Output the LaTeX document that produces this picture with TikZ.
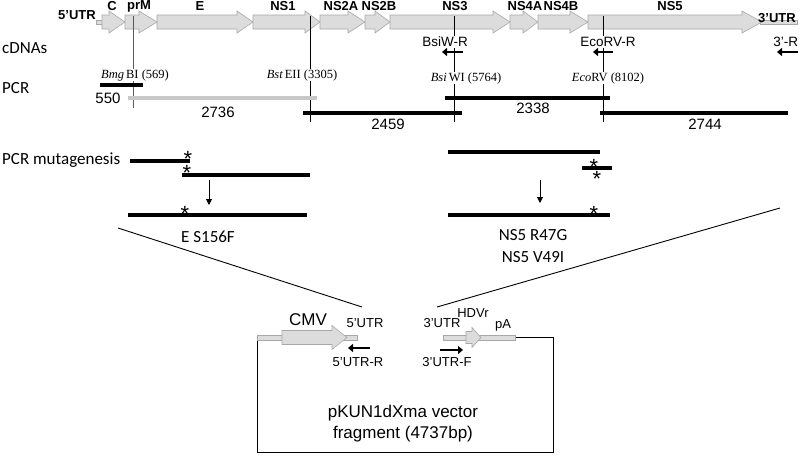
\documentclass[tikz,border=0pt]{standalone}
\usepackage{fontspec}
\setmainfont{Liberation Sans}
\newfontfamily\calfont{Carlito}
\newfontfamily\serfont{Liberation Serif}
\usetikzlibrary{arrows.meta}
\definecolor{genefill}{HTML}{DCDCDC}
\definecolor{geneline}{HTML}{A8A8A8}
\definecolor{graybar}{HTML}{C8C8C8}
\newcommand\garrow[6]{% x0, xhead, xtip, yc, body half, head half
  \draw[gene] (#1,#4-#5) -- (#2,#4-#5) -- (#2,#4-#6) -- (#3,#4) -- (#2,#4+#6) -- (#2,#4+#5) -- (#1,#4+#5) -- cycle;}
\newcommand\mystar{\raisebox{-9pt}[6pt][0pt]{*}}
\begin{document}
\begin{tikzpicture}[x=1pt,y=-1pt,
  gene/.style={fill=genefill, draw=geneline, line width=0.6pt},
  glab/.style={font=\fontsize{13}{15}\selectfont\bfseries, inner sep=0pt},
  numlab/.style={font=\fontsize{15}{17}\selectfont, inner sep=0pt},
  prim/.style={font=\fontsize{13.5}{15}\selectfont, inner sep=0.8pt, fill=white},
  site/.style={font=\fontsize{12.5}{14}\serfont, inner sep=0.8pt, fill=white},
  cal/.style={font=\fontsize{17}{20}\calfont, inner sep=0pt},
  dnabar/.style={line width=4pt},
  parr/.style={line width=2.6pt, -{Triangle[length=5pt,width=8pt]}},
  darr/.style={line width=0.9pt, -{Triangle[length=6pt,width=6pt]}},
  ast/.style={font=\fontsize{22}{22}\selectfont, inner sep=0pt, anchor=base},
  vlab/.style={font=\fontsize{13}{15}\selectfont, inner sep=0pt},
  big/.style={font=\fontsize{17}{20}\selectfont, inner sep=0pt},
  thinline/.style={line width=0.9pt},
]
\useasboundingbox (0,0) rectangle (800,455);
% ---- genome arrows
\draw[gene] (96,20) rectangle (103,24);
\draw[gene] (760,20) rectangle (797,24);
\garrow{102}{109}{125}{22}{7}{11}
\garrow{125}{139}{157}{22}{7}{11}
\garrow{157}{237}{253}{22}{7}{11}
\garrow{253}{305}{320}{22}{7}{11}
\garrow{320}{348}{365}{22}{7}{11}
\garrow{365}{375}{390}{22}{7}{11}
\garrow{390}{493}{510}{22}{7}{11}
\garrow{510}{523}{538}{22}{7}{11}
\garrow{538}{570}{588}{22}{7}{11}
\garrow{588}{742}{762}{22}{7}{11}
% gene labels
\node[glab] (utr5) at (77,15) {5'UTR};
\node[glab] (gC) at (112,6) {C};
\node[glab] (gprM) at (139,6) {prM};
\node[glab] (gE) at (200,6) {E};
\node[glab] (gNS1) at (283,6) {NS1};
\node[glab] (gNS2A) at (341,6) {NS2A};
\node[glab] (gNS2B) at (379,6) {NS2B};
\node[glab] (gNS3) at (455,6) {NS3};
\node[glab] (gNS4A) at (525,6) {NS4A};
\node[glab] (gNS4B) at (561,6) {NS4B};
\node[glab] (gNS5) at (670,6) {NS5};
\node[glab] (utr3) at (777,18) {3'UTR};
% ---- site lines
\draw[line width=1pt, black!65] (133,16) -- (133,108);
\draw[line width=1pt] (310,16) -- (310,122);
\draw[line width=1pt] (454,16) -- (454,122);
\draw[line width=1pt] (603,16) -- (603,122);
% row labels
\node[cal, anchor=west] (cdna) at (2,48) {cDNAs};
\node[cal, anchor=west] (pcr) at (2,88) {PCR};
\node[cal, anchor=west] (mut) at (2,160) {PCR mutagenesis};
% primers
\node[prim] (bsiwr) at (445,42) {BsiW-R};
\node[prim] (ecorvr) at (608,42) {EcoRV-R};
\node[prim, anchor=east] (r3) at (799,42) {3'-R};
\draw[parr] (463,52) -- (442,52);
\draw[parr] (613,52) -- (593,52);
\draw[parr] (798,52) -- (777,52);
% sites
\node[site] (bmg) at (135,75) {{\itshape Bmg}\,BI (569)};
\node[site] (bst) at (302,75) {{\itshape Bst}\,EII (3305)};
\node[site] (bsi) at (466,78) {{\itshape Bsi}\,WI (5764)};
\node[site] (eco) at (608,78) {{\itshape Eco}RV (8102)};
% PCR bars
\draw[dnabar] (100,85) -- (143,85);
\draw[dnabar, graybar] (128,98) -- (317,98);
\draw[dnabar] (303,113) -- (462,113);
\draw[dnabar] (445,98) -- (610,98);
\draw[dnabar] (600,113) -- (788,113);
\node[numlab] (n550) at (108,98) {550};
\node[numlab] (n2736) at (218,112) {2736};
\node[numlab] (n2459) at (388,124) {2459};
\node[numlab] (n2338) at (533,108) {2338};
\node[numlab] (n2744) at (705,124) {2744};
% ---- mutagenesis E
\draw[dnabar] (130,161) -- (190,161);
\draw[dnabar] (182,175) -- (310,175);
\draw[dnabar] (128,215) -- (307,215);
\node[ast] (a1) at (188,157) {\mystar};
\node[ast] (a2) at (187,171) {\mystar};
\node[ast] (a3) at (185,212) {\mystar};
\draw[darr] (209,180) -- (209,205);
\node[cal] (es) at (208,237) {E S156F};
% ---- mutagenesis NS5
\draw[dnabar] (448,152) -- (600,152);
\draw[dnabar] (582,168) -- (612,168);
\draw[dnabar] (448,215) -- (610,215);
\node[ast] (a4) at (594,165) {\mystar};
\node[ast] (a5) at (597,177) {\mystar};
\node[ast] (a6) at (594,212) {\mystar};
\draw[darr] (540,180) -- (540,203);
\node[cal] (r47) at (533,235) {NS5 R47G};
\node[cal] (v49) at (533,257) {NS5 V49I};
% diagonals
\coordinate (dl1) at (118,228); \coordinate (dl2) at (362,307);
\coordinate (dr1) at (780,208); \coordinate (dr2) at (437,307);
\draw[thinline] (dl1) -- (dl2);
\draw[thinline] (dr1) -- (dr2);
% ---- vector
\draw[thinline] (257,337.5) -- (257,452) -- (553,452) -- (553,337.5) -- (515,337.5);
\draw[gene] (257,335) rectangle (357,340);
\garrow{282}{332}{347}{337.5}{7}{12}
\draw[gene] (443,335) rectangle (515,340);
\garrow{466}{472}{481}{337.5}{6}{10}
\node[big] (cmv) at (308,320) {CMV};
\node[vlab] (v5) at (365,323) {5'UTR};
\draw[parr] (370,348) -- (348,348);
\node[vlab] (v5r) at (358,362) {5'UTR-R};
\node[vlab] (v3) at (442,323) {3'UTR};
\node[vlab] (hdv) at (473,313) {HDVr};
\node[vlab] (pa) at (503,325) {pA};
\draw[parr] (440,350) -- (463,350);
\node[vlab] (v3f) at (447,362) {3'UTR-F};
\node[big] (pk1) at (403,413) {pKUN1dXma vector};
\node[big] (pk2) at (403,434) {fragment (4737bp)};
\end{tikzpicture}
\end{document}
